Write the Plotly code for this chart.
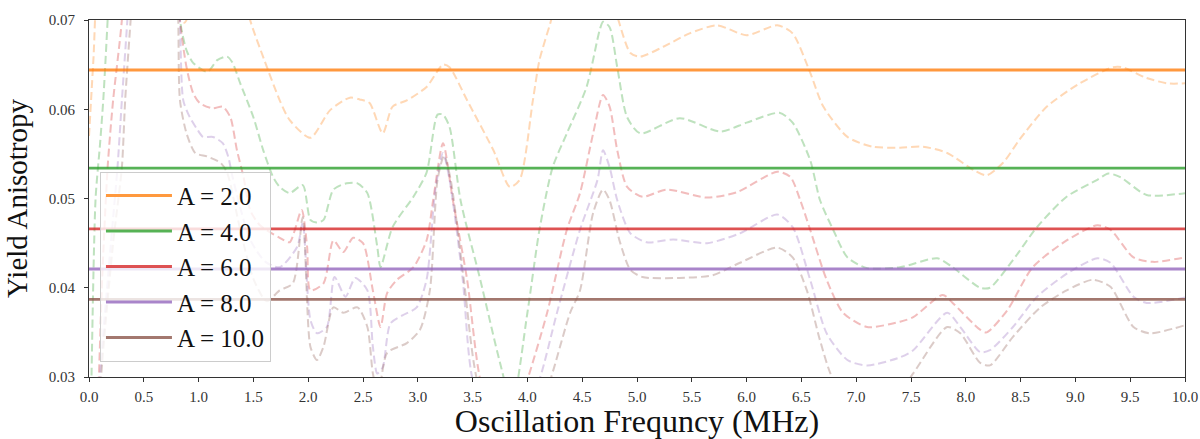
import plotly.graph_objects as go

# levels of the solid lines (one per A)
amplitudes = ['A = 2.0', 'A = 4.0', 'A = 6.0', 'A = 8.0', 'A = 10.0']
mean_levels = [0.0644, 0.0534, 0.0466, 0.0421, 0.0387]
colors = ['#ff7f0e', '#2ca02c', '#d62728', '#9467bd', '#8c564b']

# dashed curves (freq MHz, anisotropy)
freq_a2 = [0.0, 0.04, 0.1, 0.45, 0.75, 0.87, 1.0, 1.2, 1.38, 1.47, 1.6, 1.74, 1.83, 2.02, 2.2,
           2.38, 2.47, 2.56, 2.68, 2.77, 2.9, 3.08, 3.23, 3.29, 3.45, 3.69, 3.84, 3.93, 4.05,
           4.11, 4.21, 4.4, 4.65, 4.83, 4.94, 5.03, 5.24, 5.48, 5.73, 6.0, 6.28, 6.42, 6.58,
           6.7, 6.92, 7.15, 7.4, 7.61, 7.83, 8.07, 8.19, 8.34, 8.49, 8.74, 9.04, 9.34, 9.43,
           9.65, 9.84, 10.0]
vals_a2 = [0.057, 0.0655, 0.078, 0.095, 0.074, 0.0697, 0.074, 0.08, 0.075, 0.070, 0.0655, 0.061,
           0.0588, 0.0568, 0.0599, 0.0613, 0.0611, 0.0607, 0.0573, 0.0603, 0.061, 0.0625, 0.065,
           0.0647, 0.061, 0.0554, 0.0513, 0.0521, 0.061, 0.0655, 0.0697, 0.078, 0.078, 0.070,
           0.0663, 0.0659, 0.067, 0.0685, 0.0694, 0.0683, 0.0694, 0.0685, 0.0641, 0.0603,
           0.0569, 0.0558, 0.0557, 0.0558, 0.0551, 0.0532, 0.0526, 0.054, 0.0566, 0.0603,
           0.0629, 0.0647, 0.0647, 0.0635, 0.0629, 0.0629]

freq_a4 = [0.0, 0.02, 0.06, 0.10, 0.13, 0.17, 0.25, 0.5, 0.75, 0.83, 0.89, 0.95, 1.08, 1.17,
           1.26, 1.31, 1.38, 1.5, 1.59, 1.68, 1.74, 1.83, 1.95, 2.02, 2.08, 2.14, 2.23, 2.35,
           2.45, 2.54, 2.63, 2.66, 2.77, 2.96, 3.08, 3.18, 3.23, 3.29, 3.39, 3.57, 3.75, 3.86,
           4.0, 4.11, 4.23, 4.36, 4.54, 4.66, 4.69, 4.75, 4.82, 4.91, 5.03, 5.39, 5.76, 6.0,
           6.3, 6.42, 6.58, 6.67, 6.79, 6.92, 7.1, 7.4, 7.74, 7.88, 8.13, 8.22, 8.43, 8.65,
           8.92, 9.2, 9.3, 9.41, 9.65, 10.0]
vals_a4 = [0.01, 0.028, 0.050, 0.056, 0.061, 0.070, 0.09, 0.11, 0.09, 0.070, 0.0666, 0.0652,
           0.0642, 0.0655, 0.0659, 0.0652, 0.0629, 0.0591, 0.0554, 0.0524, 0.0513, 0.0506,
           0.0515, 0.0476, 0.0473, 0.0476, 0.051, 0.0517, 0.0517, 0.0506, 0.0446, 0.0423,
           0.0468, 0.0502, 0.0529, 0.0594, 0.0594, 0.058, 0.0498, 0.0409, 0.0316, 0.027,
           0.0372, 0.0465, 0.0535, 0.0573, 0.0625, 0.0689, 0.0698, 0.0692, 0.0647, 0.0591,
           0.0573, 0.059, 0.0575, 0.0585, 0.0596, 0.0585, 0.0543, 0.0498, 0.0465, 0.0434,
           0.0422, 0.0423, 0.0433, 0.0423, 0.040, 0.040, 0.0431, 0.0468, 0.0502, 0.0521,
           0.0528, 0.0524, 0.0504, 0.0506]

freq_a6 = [0.0, 0.09, 0.12, 0.17, 0.22, 0.30, 0.4, 0.6, 0.8, 0.83, 0.89, 0.95, 1.01, 1.13, 1.22,
           1.29, 1.35, 1.41, 1.47, 1.56, 1.74, 1.83, 1.94, 1.99, 2.02, 2.14, 2.23, 2.32, 2.41,
           2.5, 2.59, 2.66, 2.72, 2.81, 2.96, 3.08, 3.14, 3.23, 3.32, 3.45, 3.57, 3.78, 4.0,
           4.18, 4.36, 4.48, 4.6, 4.69, 4.75, 4.82, 4.91, 5.05, 5.27, 5.64, 5.91, 6.28, 6.4,
           6.49, 6.58, 6.73, 6.88, 7.1, 7.4, 7.52, 7.79, 7.88, 8.13, 8.19, 8.38, 8.61, 8.92,
           9.2, 9.32, 9.53, 9.71, 10.0]
vals_a6 = [0.005, 0.03, 0.041, 0.0535, 0.061, 0.070, 0.09, 0.10, 0.08, 0.070, 0.0647, 0.0618,
           0.0607, 0.0601, 0.0603, 0.0591, 0.0554, 0.0524, 0.0487, 0.047, 0.0456, 0.0451,
           0.0487, 0.0446, 0.0397, 0.0405, 0.0453, 0.044, 0.0456, 0.045, 0.0397, 0.0356,
           0.0394, 0.0409, 0.0423, 0.0453, 0.0498, 0.0562, 0.0498, 0.0409, 0.0297, 0.022,
           0.0297, 0.0372, 0.0465, 0.0506, 0.0573, 0.0616, 0.0603, 0.0554, 0.0513, 0.0502,
           0.051, 0.0501, 0.0507, 0.053, 0.0524, 0.0498, 0.0465, 0.0409, 0.0372, 0.0356,
           0.0362, 0.0367, 0.0392, 0.0383, 0.0353, 0.035, 0.0375, 0.0423, 0.0453, 0.047,
           0.0465, 0.0434, 0.0429, 0.0434]

freq_a8 = [0.0, 0.10, 0.2, 0.26, 0.30, 0.35, 0.45, 0.65, 0.81, 0.83, 0.86, 0.92, 0.99, 1.04,
           1.13, 1.22, 1.27, 1.31, 1.47, 1.61, 1.74, 1.9, 1.95, 2.02, 2.08, 2.17, 2.24, 2.34,
           2.43, 2.54, 2.59, 2.63, 2.68, 2.75, 2.86, 2.99, 3.08, 3.16, 3.23, 3.29, 3.41, 3.5,
           3.8, 4.11, 4.27, 4.48, 4.64, 4.69, 4.75, 4.82, 4.94, 5.09, 5.33, 5.64, 5.94, 6.28,
           6.42, 6.58, 6.73, 6.92, 7.1, 7.4, 7.52, 7.83, 7.95, 8.13, 8.22, 8.43, 8.65, 8.95,
           9.2, 9.32, 9.53, 9.65, 10.0]
vals_a8 = [0.005, 0.03, 0.045, 0.0535, 0.061, 0.070, 0.09, 0.10, 0.075, 0.070, 0.061, 0.0591,
           0.0577, 0.0569, 0.0569, 0.0562, 0.0547, 0.0524, 0.0454, 0.0429, 0.0423, 0.0446,
           0.0473, 0.0364, 0.0349, 0.0356, 0.0412, 0.039, 0.0411, 0.0397, 0.0334, 0.0304,
           0.0311, 0.036, 0.0369, 0.0378, 0.0409, 0.051, 0.0551, 0.0521, 0.0409, 0.0297,
           0.020, 0.0297, 0.0372, 0.0465, 0.0521, 0.0554, 0.0535, 0.0498, 0.0461, 0.0451,
           0.0454, 0.045, 0.0461, 0.0482, 0.0468, 0.0409, 0.0349, 0.0319, 0.0313, 0.0322,
           0.033, 0.0372, 0.0356, 0.0328, 0.033, 0.0356, 0.039, 0.0418, 0.0433, 0.0428,
           0.039, 0.0383, 0.0389]

freq_a10 = [0.0, 0.11, 0.22, 0.30, 0.33, 0.38, 0.5, 0.7, 0.81, 0.83, 0.89, 0.97, 1.08, 1.2,
            1.26, 1.38, 1.5, 1.62, 1.74, 1.86, 1.95, 2.02, 2.08, 2.14, 2.23, 2.32, 2.45, 2.54,
            2.59, 2.64, 2.72, 2.9, 3.02, 3.11, 3.18, 3.24, 3.3, 3.42, 3.54, 3.88, 4.21, 4.39,
            4.48, 4.6, 4.69, 4.75, 4.84, 4.94, 5.05, 5.39, 5.69, 5.94, 6.28, 6.42, 6.55, 6.67,
            6.79, 7.15, 7.52, 7.83, 7.95, 8.13, 8.22, 8.43, 8.68, 8.92, 9.16, 9.32, 9.53,
            9.68, 10.0]
vals_a10 = [0.005, 0.03, 0.045, 0.0535, 0.061, 0.070, 0.09, 0.09, 0.072, 0.061, 0.0573,
            0.0551, 0.0547, 0.054, 0.0529, 0.0465, 0.041, 0.0385, 0.0397, 0.0405, 0.0479,
            0.0334, 0.0319, 0.0334, 0.0378, 0.0372, 0.0378, 0.0356, 0.0304, 0.028, 0.0327,
            0.0338, 0.0353, 0.0397, 0.0521, 0.0548, 0.0521, 0.0409, 0.0297, 0.018, 0.0297,
            0.0372, 0.0397, 0.0484, 0.051, 0.0498, 0.0453, 0.042, 0.0412, 0.0411, 0.0414,
            0.0428, 0.0445, 0.0434, 0.0397, 0.0341, 0.0297, 0.024, 0.0304, 0.0356, 0.0349,
            0.0316, 0.0313, 0.0345, 0.0378, 0.0397, 0.0409, 0.0401, 0.0356, 0.0349, 0.0358]

curve_freqs = [freq_a2, freq_a4, freq_a6, freq_a8, freq_a10]
curve_vals = [vals_a2, vals_a4, vals_a6, vals_a8, vals_a10]

x_ticks = [i * 0.5 for i in range(21)]
y_ticks = [0.03, 0.04, 0.05, 0.06, 0.07]

serif = 'Liberation Serif, Times New Roman, serif'

fig = go.Figure()

# faint dashed curves first, not in the legend
for fx, fy, c in zip(curve_freqs, curve_vals, colors):
    fig.add_trace(go.Scatter(x=fx, y=fy, mode='lines', opacity=0.3,
                             line=dict(color=c, width=2, dash='8px,4px', shape='spline', smoothing=0.7),
                             showlegend=False, hoverinfo='skip'))

for name, lvl, c in zip(amplitudes, mean_levels, colors):
    fig.add_trace(go.Scatter(x=[0, 10], y=[lvl, lvl], mode='lines', name=name,
                             opacity=0.8, line=dict(color=c, width=2.8)))

fig.update_layout(
    width=1200, height=439,
    margin=dict(l=89, r=15, t=20, b=62),
    plot_bgcolor='white', paper_bgcolor='white',
    font=dict(family=serif, color='#222'),
    legend=dict(x=0.01, y=0.575, xanchor='left', yanchor='top', itemwidth=66,
                bgcolor='rgba(255,255,255,0.8)', bordercolor='#cccccc', borderwidth=1,
                font=dict(size=25, family=serif, color='#111')),
)
fig.update_xaxes(range=[0, 10], tickvals=x_ticks, tickformat='.1f', automargin=False,
                 ticks='outside', ticklen=4, tickcolor='#333', ticklabelstandoff=2,
                 showline=True, linecolor='#333', linewidth=1, mirror=True,
                 showgrid=False, zeroline=False,
                 tickfont=dict(size=15, family=serif, color='#333'),
                 title=dict(text='Oscillation Frequncy (MHz)', standoff=4,
                            font=dict(size=32, family=serif, color='#111')))
fig.update_yaxes(range=[0.03, 0.07], tickvals=y_ticks, tickformat='.2f', automargin=False,
                 ticks='outside', ticklen=4, tickcolor='#333', ticklabelstandoff=6,
                 showline=True, linecolor='#333', linewidth=1, mirror=True,
                 showgrid=False, zeroline=False,
                 tickfont=dict(size=15, family=serif, color='#333'),
                 title=dict(text='Yield Anisotropy', standoff=12,
                            font=dict(size=29, family=serif, color='#111')))

# the page's default body margin would push the figure 8px down and right
fig.write_html('out.html', config={'displayModeBar': False},
               post_script="document.body.style.margin='0';")
